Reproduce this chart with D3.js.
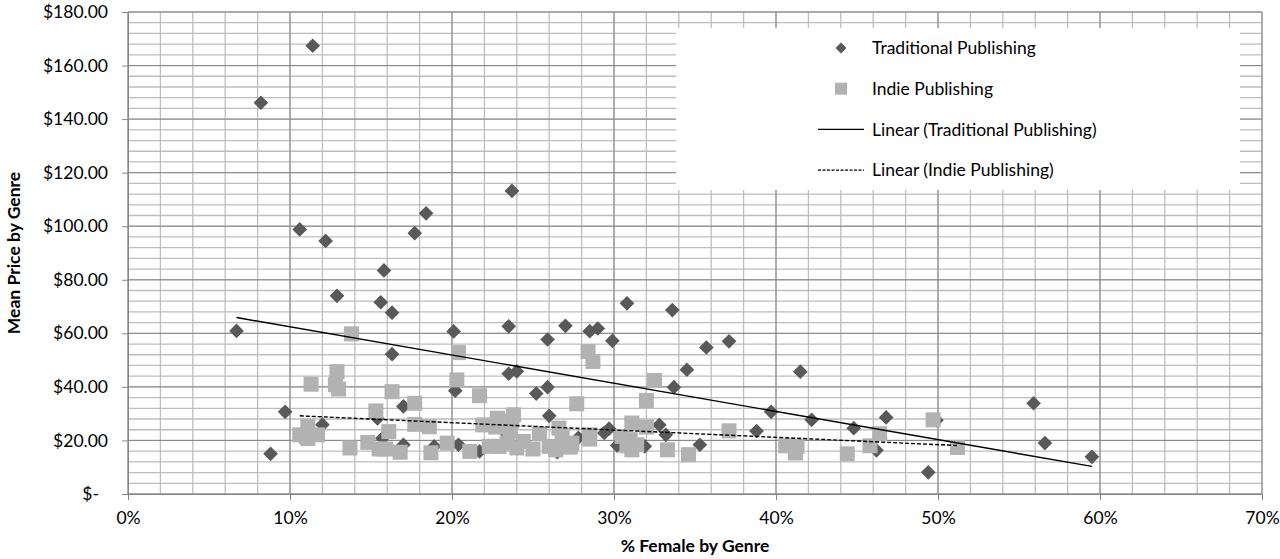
<!DOCTYPE html>
<html>
<head>
<meta charset="utf-8">
<script src="https://cdn.jsdelivr.net/npm/d3@7"></script>
<style>
  body { margin: 0; background: #fff; }
  text { font-family: Lato, "Open Sans", sans-serif; fill: #000; }
</style>
</head>
<body>
<svg id="chart"></svg>
<script>
// Data: [% female, mean price]
const traditional = [
    [6.7, 60.9], [8.2, 146.1], [8.8, 15.0], [9.7, 30.7], [10.6, 98.8], [11.4, 167.4],
    [12.0, 25.9], [12.2, 94.5], [12.9, 74.0], [15.4, 28.2], [15.6, 71.6], [15.7, 20.8],
    [15.8, 83.5], [16.3, 67.7], [16.3, 52.2], [17.0, 32.7], [17.0, 18.4], [17.7, 97.4],
    [18.4, 104.8], [18.9, 17.8], [20.1, 60.7], [20.2, 38.6], [20.4, 18.4], [21.7, 15.9],
    [23.3, 23.0], [23.5, 62.6], [23.5, 44.9], [23.7, 113.2], [24.0, 45.8], [25.2, 37.5],
    [25.9, 57.7], [25.9, 39.9], [26.0, 29.2], [26.5, 15.6], [27.0, 62.8], [27.8, 21.0],
    [28.5, 60.8], [29.0, 61.8], [29.4, 22.8], [29.7, 24.4], [29.9, 57.2], [30.2, 18.1],
    [30.8, 71.2], [31.9, 17.8], [32.8, 25.8], [33.2, 22.1], [33.6, 68.7], [33.7, 39.9],
    [34.5, 46.4], [35.3, 18.4], [35.7, 54.7], [37.1, 57.0], [38.8, 23.5], [39.7, 30.7],
    [41.5, 45.7], [42.2, 27.7], [44.8, 24.6], [46.2, 16.3], [46.8, 28.6], [49.4, 8.1],
    [49.9, 27.5], [55.9, 33.9], [56.6, 19.0], [59.5, 13.9]
];

const indie = [
    [10.6, 22.1], [11.1, 25.3], [11.1, 20.7], [11.0, 21.5], [11.3, 41.0], [11.7, 22.1],
    [12.9, 45.7], [12.8, 40.8], [13.0, 39.2], [13.7, 17.2], [13.8, 59.8], [14.8, 19.3],
    [15.3, 31.0], [15.5, 16.8], [15.9, 16.8], [16.1, 23.3], [16.3, 38.2], [16.8, 15.6],
    [17.7, 33.9], [17.7, 26.0], [18.6, 25.1], [18.7, 15.4], [19.7, 19.0], [20.3, 42.6],
    [20.4, 52.8], [21.1, 15.9], [21.7, 36.7], [21.9, 25.8], [22.3, 17.8], [22.7, 25.0],
    [22.8, 28.3], [22.9, 17.8], [23.4, 19.0], [23.6, 23.4], [23.7, 27.3], [23.8, 29.6],
    [24.0, 17.2], [24.4, 19.6], [25.0, 16.8], [25.4, 22.5], [26.0, 17.8], [26.4, 16.5],
    [26.6, 24.6], [26.8, 21.7], [27.3, 17.5], [27.4, 19.0], [27.7, 33.7], [28.4, 53.2],
    [28.5, 22.1], [28.5, 20.5], [28.7, 49.5], [30.5, 21.5], [30.8, 18.0], [31.0, 20.3],
    [31.1, 26.5], [31.1, 16.5], [31.4, 18.4], [32.0, 34.9], [32.0, 25.0], [32.5, 42.4],
    [33.3, 16.5], [34.6, 14.7], [37.1, 23.6], [40.6, 18.0], [41.2, 15.3], [41.3, 17.8],
    [44.4, 15.0], [45.8, 18.0], [46.4, 22.5], [49.7, 27.7], [51.2, 17.4]
];

// linear trend lines (end points as drawn)
const trendTraditional = [[6.7, 65.9], [59.5, 10.3]];
const trendIndie = [[10.6, 29.2], [51.2, 18.1]];

const xTicks = [0, 10, 20, 30, 40, 50, 60, 70];
const yTicks = [0, 20, 40, 60, 80, 100, 120, 140, 160, 180];

const legendItems = [
    { label: "Traditional Publishing", type: "diamond" },
    { label: "Indie Publishing", type: "square" },
    { label: "Linear (Traditional Publishing)", type: "solid" },
    { label: "Linear (Indie Publishing)", type: "dashed" }
];

let width = 1280, height = 559;
let margin = { top: 12, bottom: 65, left: 128, right: 18 };

let svg = d3.select('#chart')
    .attr('width', width)
    .attr('height', height);

let xScale = d3.scaleLinear()
    .domain([0, 70])
    .range([margin.left, width - margin.right]);

let yScale = d3.scaleLinear()
    .domain([0, 180])
    .range([height - margin.bottom, margin.top]);

// minor gridlines
svg.append('g')
    .selectAll('line')
    .data(d3.range(0, 70.001, 2))
    .enter().append('line')
    .attr('x1', d => xScale(d)).attr('x2', d => xScale(d))
    .attr('y1', yScale(0)).attr('y2', yScale(180))
    .attr('stroke', '#bdbdbd').attr('stroke-width', 1.3);

svg.append('g')
    .selectAll('line')
    .data(d3.range(0, 180.001, 4))
    .enter().append('line')
    .attr('x1', xScale(0)).attr('x2', xScale(70))
    .attr('y1', d => yScale(d)).attr('y2', d => yScale(d))
    .attr('stroke', '#bdbdbd').attr('stroke-width', 1.3);

// major gridlines
svg.append('g')
    .selectAll('line')
    .data(xTicks)
    .enter().append('line')
    .attr('x1', d => xScale(d)).attr('x2', d => xScale(d))
    .attr('y1', yScale(0)).attr('y2', yScale(180))
    .attr('stroke', '#868686').attr('stroke-width', 1);

svg.append('g')
    .selectAll('line')
    .data(yTicks)
    .enter().append('line')
    .attr('x1', xScale(0)).attr('x2', xScale(70))
    .attr('y1', d => yScale(d)).attr('y2', d => yScale(d))
    .attr('stroke', '#868686').attr('stroke-width', 1);

// axes
let xAxis = svg.append('g')
    .attr('transform', `translate(0, ${yScale(0)})`)
    .call(d3.axisBottom(xScale).tickValues(xTicks).tickSize(6).tickPadding(12)
        .tickFormat(d => d + '%'));

let yAxis = svg.append('g')
    .attr('transform', `translate(${xScale(0)}, 0)`)
    .call(d3.axisLeft(yScale).tickValues(yTicks).tickSize(6).tickPadding(14)
        .tickFormat(d => d === 0 ? '$-' : d3.format('$.2f')(d)));

[xAxis, yAxis].forEach(ax => {
    ax.select('.domain').attr('stroke', '#868686');
    ax.selectAll('.tick line').attr('stroke', '#868686');
    ax.selectAll('.tick text')
        .style('font-size', '17.5px')
        .style('font-family', 'Lato, sans-serif')
        .attr('fill', '#000');
});
yAxis.selectAll('.tick text').filter(d => d === 0).attr('dx', -9);

// traditional publishing: diamonds
const diamond = d3.symbol().type(d3.symbolSquare).size(108);
svg.append('g')
    .selectAll('path')
    .data(traditional)
    .enter().append('path')
    .attr('d', diamond)
    .attr('transform', d => `translate(${xScale(d[0])}, ${yScale(d[1])}) rotate(45)`)
    .attr('fill', '#595959');

// indie publishing: squares
svg.append('g')
    .selectAll('rect')
    .data(indie)
    .enter().append('rect')
    .attr('x', d => xScale(d[0]) - 7.5)
    .attr('y', d => yScale(d[1]) - 7.5)
    .attr('width', 15)
    .attr('height', 15)
    .attr('fill', '#b2b2b2');

// trend lines
const line = d3.line().x(d => xScale(d[0])).y(d => yScale(d[1]));

svg.append('path')
    .datum(trendTraditional)
    .attr('d', line)
    .attr('fill', 'none')
    .attr('stroke', '#000')
    .attr('stroke-width', 1.4);

svg.append('path')
    .datum(trendIndie)
    .attr('d', line)
    .attr('fill', 'none')
    .attr('stroke', '#000')
    .attr('stroke-width', 1.4)
    .attr('stroke-dasharray', '4,2');

// legend
svg.append('rect')
    .attr('x', 676).attr('y', 28)
    .attr('width', 564).attr('height', 162)
    .attr('fill', '#fff');

const legend = svg.selectAll('.legend')
    .data(legendItems)
    .enter().append('g')
    .attr('class', 'legend')
    .attr('transform', (d, i) => `translate(841, ${48 + i * 40.7})`);

legend.filter(d => d.type === 'diamond').append('path')
    .attr('d', d3.symbol().type(d3.symbolSquare).size(60))
    .attr('transform', 'rotate(45)')
    .attr('fill', '#595959');

legend.filter(d => d.type === 'square').append('rect')
    .attr('x', -6).attr('y', -6).attr('width', 12).attr('height', 12)
    .attr('fill', '#b2b2b2');

legend.filter(d => d.type === 'solid' || d.type === 'dashed').append('line')
    .attr('x1', -23).attr('x2', 23)
    .attr('stroke', '#000')
    .attr('stroke-width', 1.2)
    .attr('stroke-dasharray', d => d.type === 'dashed' ? '3,1.5' : null);

legend.append('text')
    .attr('x', 31)
    .attr('dy', '0.35em')
    .style('font-size', '17.5px')
    .text(d => d.label);

// axis titles
svg.append('text')
    .attr('x', (xScale(0) + xScale(70)) / 2)
    .attr('y', 552)
    .attr('text-anchor', 'middle')
    .style('font-size', '17.5px')
    .style('font-weight', 'bold')
    .text('% Female by Genre');

svg.append('text')
    .attr('transform', `translate(20, ${(yScale(0) + yScale(180)) / 2}) rotate(-90)`)
    .attr('text-anchor', 'middle')
    .style('font-size', '17.5px')
    .style('font-weight', 'bold')
    .text('Mean Price by Genre');
</script>
</body>
</html>
